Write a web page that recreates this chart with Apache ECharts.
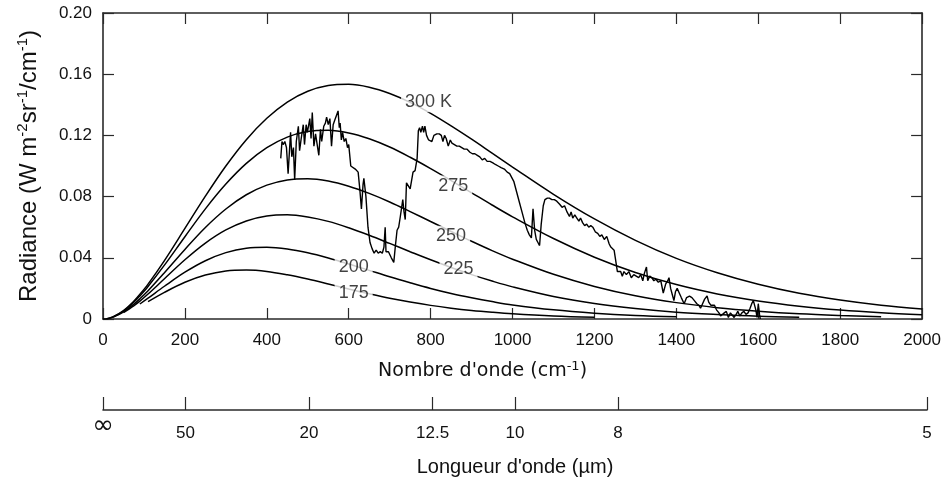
<!DOCTYPE html>
<html><head><meta charset="utf-8">
<script src="https://cdn.jsdelivr.net/npm/echarts@6/dist/echarts.min.js"></script>
<style>html,body{margin:0;padding:0;background:#fff}#c{width:944px;height:487px}</style>
</head><body><div id="c"></div>
<script>
// ---- data ----
const wavenumbers = [0,10,25,50,75,90,110,150,200,250,300,350,400,450,500,550,600,650,700,750,800,850,900,950,1000,1100,1200,1300,1400,1500,1600,1700,1800,1900,2000];
const radiance300 = [0,0.0002,0.0015,0.0055,0.0116,0.0161,0.0228,0.0382,0.0592,0.0803,0.1000,0.1172,0.1312,0.1418,0.1489,0.1526,0.1534,0.1515,0.1474,0.1416,0.1344,0.1262,0.1175,0.1084,0.0993,0.0815,0.0654,0.0514,0.0396,0.0302,0.0227,0.0168,0.0124,0.0090,0.0065];
const radiance275 = [null,0.0002,0.0014,0.0052,0.0109,0.0151,0.0213,0.0352,0.0538,0.0720,0.0882,0.1017,0.1120,0.1189,0.1225,0.1233,0.1216,0.1178,0.1124,0.1057,0.0983,0.0905,0.0825,0.0745,0.0668,0.0526,0.0404,0.0304,0.0225,0.0164,0.0118,0.0084,0.0059,0.0041,0.0028];
const radiance250 = [null,null,0.0012,0.0046,0.0096,0.0132,0.0185,0.0303,0.0455,0.0598,0.0719,0.0812,0.0875,0.0909,0.0917,0.0902,0.0868,0.0821,0.0765,0.0702,0.0637,0.0572,0.0508,0.0447,0.0391,0.0292,0.0213,0.0152,0.0107,0.0074,0.0051,0.0034,0.0023,0.0015,null];
const radiance225 = [null,null,null,0.0042,0.0086,0.0117,0.0163,0.0263,0.0387,0.0496,0.0582,0.0641,0.0673,0.0681,0.0667,0.0638,0.0596,0.0547,0.0494,0.0440,0.0387,0.0337,0.0290,0.0248,0.0210,0.0147,0.0101,0.0068,0.0044,0.0029,0.0018,0.0012,null,null,null];
const radiance200 = [null,null,null,null,null,0.0098,0.0136,0.0214,0.0306,0.0381,0.0434,0.0463,0.0469,0.0458,0.0433,0.0399,0.0360,0.0318,0.0276,0.0237,0.0200,0.0167,0.0139,0.0114,0.0092,0.0060,0.0038,0.0023,0.0014,null,null,null,null,null,null];
const radiance175 = [null,null,null,null,null,null,0.0113,0.0174,0.0240,0.0287,0.0314,0.0320,0.0311,0.0289,0.0261,0.0229,0.0196,0.0165,0.0136,0.0111,0.0089,0.0071,0.0056,0.0044,0.0034,0.0020,0.0011,null,null,null,null,null,null,null,null];

const spectrumWavenumber = [434,437,440,444,448,452,458,461,465,468,472,477,480,484,489,492,496,499,505,508,511,515,519,523,527,531,534,539,543,546,550,554,558,562,566,570,574,577,579,582,585,589,593,597,600,605,608,616,623,627,631,635,637,642,647,652,657,662,667,672,677,682,686,689,691,697,704,710,714,718,722,726,732,735,738,741,745,750,757,762,767,770,773,776,780,783,786,790,795,799,803,808,815,821,826,830,834,838,843,848,852,858,864,870,876,882,889,896,902,908,914,920,926,932,938,945,952,958,965,972,980,987,993,997,1003,1010,1017,1024,1030,1036,1041,1046,1050,1054,1058,1062,1066,1070,1075,1079,1085,1090,1096,1102,1108,1115,1121,1127,1133,1139,1143,1147,1152,1157,1162,1166,1171,1176,1181,1186,1191,1196,1202,1208,1213,1218,1224,1230,1236,1240,1248,1252,1256,1260,1264,1268,1272,1278,1284,1290,1296,1302,1308,1313,1318,1322,1327,1330,1335,1340,1345,1350,1356,1362,1368,1374,1379,1382,1386,1390,1394,1398,1402,1407,1412,1419,1425,1432,1438,1444,1450,1455,1459,1464,1469,1475,1479,1484,1488,1493,1498,1504,1508,1512,1517,1522,1527,1532,1536,1541,1546,1550,1555,1560,1565,1570,1575,1580,1584,1588,1591,1594,1597,1600,1603,1605];
const spectrumRadiance = [0.105,0.116,0.114,0.116,0.112,0.095,0.122,0.106,0.112,0.091,0.116,0.126,0.110,0.118,0.127,0.114,0.127,0.122,0.131,0.118,0.135,0.113,0.121,0.120,0.107,0.124,0.116,0.126,0.128,0.132,0.127,0.131,0.113,0.127,0.130,0.133,0.136,0.125,0.128,0.117,0.122,0.116,0.118,0.112,0.114,0.100,0.099,0.098,0.096,0.085,0.072,0.088,0.092,0.080,0.060,0.050,0.046,0.043,0.045,0.043,0.044,0.043,0.047,0.060,0.044,0.044,0.040,0.037,0.048,0.058,0.060,0.067,0.078,0.070,0.065,0.089,0.088,0.085,0.096,0.097,0.105,0.123,0.125,0.122,0.126,0.122,0.126,0.120,0.117,0.118,0.116,0.120,0.121,0.121,0.120,0.116,0.120,0.118,0.113,0.117,0.115,0.114,0.113,0.113,0.112,0.111,0.111,0.109,0.108,0.108,0.107,0.106,0.104,0.105,0.103,0.103,0.102,0.101,0.100,0.099,0.098,0.096,0.095,0.094,0.090,0.083,0.076,0.069,0.063,0.058,0.055,0.053,0.072,0.058,0.052,0.050,0.048,0.062,0.074,0.078,0.079,0.079,0.078,0.078,0.077,0.075,0.073,0.074,0.070,0.067,0.070,0.066,0.068,0.066,0.064,0.066,0.063,0.061,0.062,0.060,0.061,0.060,0.057,0.056,0.054,0.055,0.052,0.054,0.049,0.047,0.045,0.038,0.031,0.030,0.031,0.028,0.031,0.029,0.031,0.027,0.029,0.028,0.027,0.029,0.025,0.030,0.034,0.025,0.028,0.027,0.025,0.026,0.024,0.025,0.017,0.023,0.025,0.027,0.020,0.016,0.012,0.018,0.020,0.017,0.014,0.010,0.014,0.015,0.014,0.012,0.010,0.009,0.007,0.010,0.013,0.015,0.011,0.009,0.010,0.009,0.006,0.004,0.002,0.001,0.004,0.005,0.001,0.004,0.005,0.001,0.003,0.005,0.002,0.004,0.005,0.003,0.004,0.007,0.010,0.012,0.011,0.006,0.001,0.010,0.003,0.000];

const curveLabels = ['300 K','275','250','225','200','175'];
const labelWavenumber = [795,855,850,868,612,612];
const labelRadiance = [0.1416,0.0872,0.0544,0.0328,0.0341,0.0170];

const wavelengthLabels = ['∞','50','20','12.5','10','8','5'];
const wavelengthMicron = [Infinity,50,20,12.5,10,8,5];

// ---- chart ----
const curves = [radiance300, radiance275, radiance250, radiance225, radiance200, radiance175];
function pairs(xs, ys){ const out=[]; for(let i=0;i<xs.length;i++){ if(ys[i]!==null && ys[i]!==undefined) out.push([xs[i], ys[i]]); } return out; }
const wlPositions = wavelengthMicron.map(l => l === Infinity ? 0 : 10000 / l);

const INK = '#111';
const AX = '#2a2a2a';
const SANS = "'Liberation Sans', Arial, Helvetica, sans-serif";

const series = curves.map(c => ({
  type:'line', xAxisIndex:0, yAxisIndex:0, data: pairs(wavenumbers, c),
  showSymbol:false, smooth:0.35, silent:true,
  lineStyle:{color:'#000', width:1.5}, z:2
}));
series.push({
  type:'line', xAxisIndex:0, yAxisIndex:0,
  data: pairs(spectrumWavenumber, spectrumRadiance),
  showSymbol:false, silent:true, lineStyle:{color:'#000', width:1.4}, z:3
});
series.push({
  type:'scatter', xAxisIndex:0, yAxisIndex:0, silent:true, z:10,
  symbolSize:1, itemStyle:{color:'rgba(0,0,0,0)'},
  data: curveLabels.map((n,i) => ({name:n, value:[labelWavenumber[i], labelRadiance[i]]})),
  label:{show:true, position:'inside', formatter:p => p.name, color:INK, fontSize:18,
         fontFamily:SANS, backgroundColor:'#fff', padding:[1,4,1,4]}
});

const tickStyle = {lineStyle:{color:AX, width:1.2}};
const option = {
  animation:false,
  backgroundColor:'#fff',
  grid:[
    {left:103, right:17, top:13, bottom:168},
    {left:103, right:17, top:398, height:12}
  ],
  xAxis:[
    {gridIndex:0, type:'value', min:0, max:2000, interval:200, position:'bottom',
     axisLine:{show:true, onZero:false, lineStyle:{color:AX, width:1.6}},
     axisTick:{show:true, inside:true, length:11, ...tickStyle},
     axisLabel:{margin:13, fontSize:17, color:INK, fontFamily:SANS, formatter:v => String(v)},
     splitLine:{show:false},
     name:"Nombre d'onde (cm{sup|-1})", nameLocation:'middle', nameGap:41,
     nameTextStyle:{fontSize:19, color:INK, fontFamily:"'DejaVu Sans', sans-serif", lineHeight:23, padding:[0,60,0,0],
       rich:{sup:{fontSize:13, verticalAlign:'top', lineHeight:13, fontFamily:"'DejaVu Sans', sans-serif", color:INK}}}},
    {gridIndex:0, type:'value', min:0, max:2000, interval:200, position:'top',
     axisLine:{show:true, onZero:false, lineStyle:{color:AX, width:1.6}},
     axisTick:{show:true, inside:true, length:11, ...tickStyle},
     axisLabel:{show:false}, splitLine:{show:false}},
    {gridIndex:1, type:'value', min:0, max:2000, position:'bottom',
     axisLine:{show:true, onZero:false, lineStyle:{color:AX, width:1.6}},
     axisTick:{show:true, inside:true, length:13, customValues:wlPositions, ...tickStyle},
     axisLabel:{show:true, margin:3, customValues:wlPositions, color:INK,
       formatter:(v) => { const i = wlPositions.findIndex(p => Math.abs(p - v) < 0.5); const t = i >= 0 ? wavelengthLabels[i] : ''; return t === '∞' ? '{inf|∞}' : '{n|' + t + '}'; },
       rich:{inf:{fontSize:26, fontFamily:"'DejaVu Sans', sans-serif", color:INK},
             n:{fontSize:17, fontFamily:"'Liberation Sans Narrow', 'Liberation Sans', sans-serif", color:INK, padding:[12,0,0,0]}}},
     splitLine:{show:false},
     name:"Longueur d'onde (\u00b5m)", nameLocation:'middle', nameGap:47,
     nameTextStyle:{fontSize:20, color:INK, fontFamily:"'Liberation Sans Narrow', 'Liberation Sans', sans-serif"}}
  ],
  yAxis:[
    {gridIndex:0, type:'value', min:0, max:0.2, interval:0.04, position:'left',
     axisLine:{show:true, onZero:false, lineStyle:{color:AX, width:1.6}},
     axisTick:{show:true, inside:true, length:11, ...tickStyle},
     axisLabel:{margin:11, fontSize:17, color:INK, fontFamily:SANS, formatter:v => v === 0 ? '0' : v.toFixed(2)},
     splitLine:{show:false},
     name:'Radiance (W m{sup|-2}sr{sup|-1}/cm{sup|-1})', nameLocation:'middle', nameGap:60, nameRotate:90,
     nameTextStyle:{fontSize:24, color:INK, fontFamily:SANS, lineHeight:28,
       rich:{sup:{fontSize:15, verticalAlign:'top', lineHeight:15, fontFamily:SANS, color:INK}}}},
    {gridIndex:0, type:'value', min:0, max:0.2, interval:0.04, position:'right',
     axisLine:{show:true, onZero:false, lineStyle:{color:AX, width:1.6}},
     axisTick:{show:true, inside:true, length:11, ...tickStyle},
     axisLabel:{show:false}, splitLine:{show:false}},
    {gridIndex:1, type:'value', min:0, max:1, show:false}
  ],
  series: series
};
const chart = echarts.init(document.getElementById('c'));
chart.setOption(option);
</script>
</body></html>
